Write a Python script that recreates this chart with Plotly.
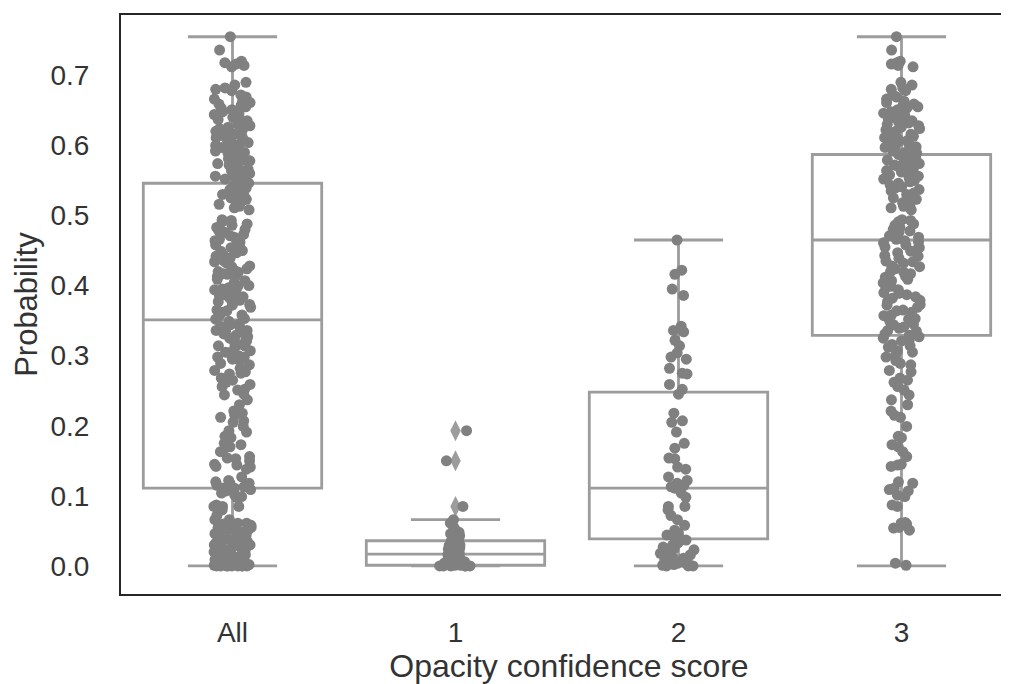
import plotly.graph_objects as go

# ---------------- data ----------------
categories = ["All", "1", "2", "3"]

score1_vals = [0.193, 0.150, 0.085, 0.066, 0.061, 0.056, 0.052, 0.048, 0.046, 0.043,
               0.040, 0.038, 0.036, 0.035, 0.032, 0.030, 0.029, 0.026, 0.024, 0.022,
               0.021, 0.019, 0.018, 0.017, 0.016, 0.015, 0.013, 0.012, 0.010, 0.009,
               0.008, 0.007, 0.006, 0.005, 0.004, 0.003, 0.003, 0.002, 0.002, 0.001,
               0.001, 0.001, 0.000, 0.000, 0.000, 0.000, 0.000, 0.000]

score2_vals = [0.465, 0.422, 0.416, 0.395, 0.386, 0.342, 0.336, 0.334, 0.322, 0.314,
               0.304, 0.298, 0.295, 0.282, 0.275, 0.274, 0.259, 0.252,
               0.245, 0.218, 0.207, 0.205, 0.191, 0.175, 0.168, 0.154, 0.153, 0.141,
               0.138, 0.127, 0.122, 0.118, 0.115, 0.113,
               0.111, 0.104, 0.098, 0.085, 0.085, 0.080, 0.072, 0.066, 0.058, 0.051,
               0.047, 0.044, 0.041, 0.039, 0.037, 0.033, 0.030, 0.027, 0.025, 0.023,
               0.020, 0.018, 0.016, 0.013, 0.011, 0.009, 0.007, 0.005, 0.004, 0.003,
               0.002, 0.001, 0.000, 0.000, 0.000]

score3_vals = [0.001, 0.004, 0.051, 0.054, 0.055, 0.060, 0.061, 0.062, 0.085, 0.087,
               0.099, 0.101, 0.107, 0.109, 0.111, 0.118, 0.120, 0.142, 0.144, 0.145,
               0.156, 0.163, 0.170, 0.173, 0.183, 0.185, 0.199, 0.212, 0.215, 0.221,
               0.230, 0.237, 0.244, 0.251, 0.256, 0.262, 0.265, 0.268, 0.277, 0.279,
               0.287, 0.289, 0.293, 0.298, 0.300, 0.305, 0.307, 0.312, 0.314, 0.316,
               0.321, 0.322, 0.325, 0.327, 0.329,
               0.331, 0.335, 0.336, 0.339, 0.341, 0.344, 0.345, 0.349, 0.352, 0.353,
               0.357, 0.358, 0.362, 0.364, 0.365, 0.369, 0.372, 0.373, 0.377, 0.379,
               0.382, 0.384, 0.387, 0.389, 0.390, 0.394, 0.397, 0.399, 0.400, 0.404,
               0.407, 0.409, 0.412, 0.413, 0.417, 0.419, 0.420, 0.424, 0.427, 0.428,
               0.432, 0.434, 0.435, 0.439, 0.442, 0.443, 0.447, 0.449, 0.450, 0.454,
               0.455, 0.458, 0.461, 0.462, 0.464,
               0.466, 0.469, 0.471, 0.473, 0.476, 0.478, 0.480, 0.483, 0.486, 0.488,
               0.491, 0.493, 0.494, 0.508, 0.511, 0.513, 0.516, 0.518, 0.521, 0.523,
               0.525, 0.528, 0.530, 0.532, 0.535, 0.537, 0.539, 0.541, 0.543, 0.546,
               0.548, 0.550, 0.552, 0.554, 0.556, 0.558, 0.560, 0.562, 0.564, 0.566,
               0.568, 0.570, 0.572, 0.574, 0.576, 0.578, 0.579, 0.581, 0.583, 0.585,
               0.586, 0.587,
               0.589, 0.590, 0.592, 0.593, 0.595, 0.597, 0.598, 0.600, 0.602, 0.604,
               0.606, 0.607, 0.609, 0.611, 0.613, 0.614, 0.616, 0.618, 0.620, 0.622,
               0.624, 0.626, 0.628, 0.630, 0.632, 0.633, 0.635, 0.637, 0.640, 0.642,
               0.644, 0.646, 0.648, 0.651, 0.653, 0.655, 0.657, 0.659, 0.661, 0.663,
               0.666, 0.669, 0.672, 0.678, 0.680, 0.682, 0.686, 0.690, 0.712, 0.714,
               0.716, 0.718, 0.720, 0.736, 0.755]

all_vals = score1_vals + score2_vals + score3_vals

# box statistics (All, 1, 2, 3)
box_q1 = [0.111, 0.001, 0.0385, 0.329]
box_median = [0.351, 0.017, 0.111, 0.465]
box_q3 = [0.546, 0.036, 0.248, 0.587]
box_lower = [0.0, 0.0, 0.0, 0.0]
box_upper = [0.755, 0.066, 0.465, 0.755]

outlier_cat = ["1", "1", "1"]
outlier_vals = [0.193, 0.150, 0.085]

# ---------------- figure ----------------
BOX_GRAY = "#9c9c9c"
PT_GRAY = "#808080"
TXT = "#333333"
FONT = "Arial, 'Liberation Sans', sans-serif"

fig = go.Figure()

fig.add_trace(go.Box(
    x=categories, q1=box_q1, median=box_median, q3=box_q3,
    lowerfence=box_lower, upperfence=box_upper,
    fillcolor="white", line=dict(color=BOX_GRAY, width=2.8),
    whiskerwidth=0.5, boxpoints=False, showlegend=False, hoverinfo="skip",
))

fig.add_trace(go.Box(
    x=outlier_cat, y=outlier_vals, boxpoints="all", jitter=0, pointpos=0,
    fillcolor="rgba(0,0,0,0)", line=dict(color="rgba(0,0,0,0)", width=0),
    marker=dict(symbol="diamond-tall", size=15, color=BOX_GRAY),
    showlegend=False, hoverinfo="skip",
))

fence1 = box_upper[1]
score1_core = [v for v in score1_vals if v <= fence1]
score1_far = [v for v in score1_vals if v > fence1]

strip_sets = [("All", all_vals, 0.21), ("1", score1_core, 0.21), ("1", score1_far, 0.16),
              ("2", score2_vals, 0.21), ("3", score3_vals, 0.21)]
for cat, vals, jit in strip_sets:
    fig.add_trace(go.Box(
        x=[cat] * len(vals), y=vals, boxpoints="all", jitter=jit, pointpos=0,
        fillcolor="rgba(0,0,0,0)", line=dict(color="rgba(0,0,0,0)", width=0),
        marker=dict(size=11, color=PT_GRAY, line=dict(width=0)),
        showlegend=False, hoverinfo="skip",
    ))

fig.update_layout(
    width=1009, height=676,
    margin=dict(l=113, r=0, t=7, b=90),
    paper_bgcolor="white", plot_bgcolor="white",
    boxmode="overlay", boxgap=0.2, boxgroupgap=0,
    font=dict(family=FONT, color=TXT),
)

fig.update_xaxes(
    type="category", categoryorder="array", categoryarray=categories,
    range=[-0.5, 3.518], showgrid=False, zeroline=False, automargin=False,
    showline=True, linecolor="#262626", linewidth=2, mirror=True,
    ticks="outside", ticklen=12, tickcolor="rgba(0,0,0,0)",
    tickfont=dict(size=28, color=TXT, family=FONT),
    title=dict(text="Opacity confidence score", font=dict(size=32, color=TXT, family=FONT), standoff=6),
)
fig.update_yaxes(
    range=[-0.04, 0.786], showgrid=False, zeroline=False, automargin=False,
    showline=True, linecolor="#262626", linewidth=2,
    tickvals=[0, 0.1, 0.2, 0.3, 0.4, 0.5, 0.6, 0.7], tickformat=".1f",
    ticks="outside", ticklen=24, tickcolor="rgba(0,0,0,0)",
    tickfont=dict(size=28, color=TXT, family=FONT),
    title=dict(text="Probability", font=dict(size=31, color=TXT, family=FONT), standoff=4),
)

fig.write_html("out.html")
